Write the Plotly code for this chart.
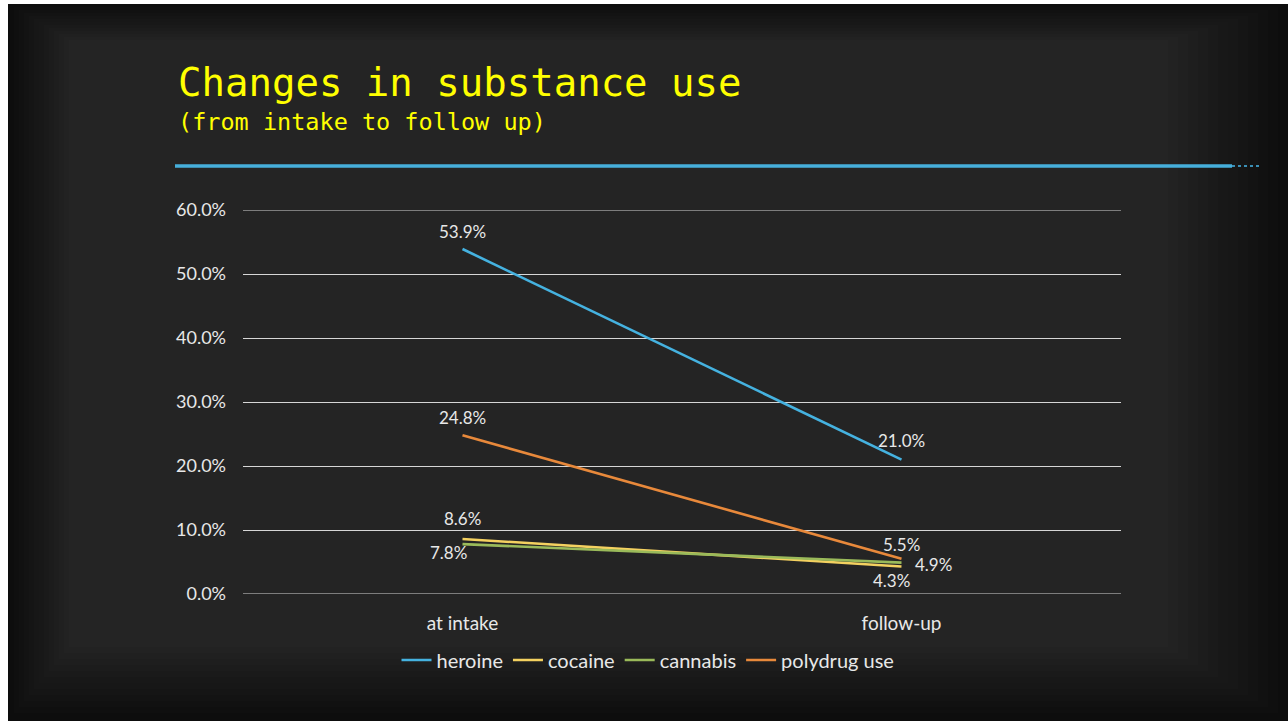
import plotly.graph_objects as go

# --- data -------------------------------------------------------------
stages = ["at intake", "follow-up"]
heroine = [53.9, 21.0]
cocaine = [8.6, 4.3]
cannabis = [7.8, 4.9]
polydrug = [24.8, 5.5]
y_ticks = [0, 10, 20, 30, 40, 50, 60]
y_tick_labels = ["0.0%", "10.0%", "20.0%", "30.0%", "40.0%", "50.0%", "60.0%"]

W, H = 1288, 721
L, R, T, B = 243, 1121, 210, 594  # plot area in pixels


def px(x):
    return (x - L) / (R - L)


def py(y):
    return (B - y) / (B - T)


# name, values, colour, label offsets (xshift, yshift) per point
series = [
    ("heroine", heroine, "#45b2e0", [(0, 18), (0, 19)]),
    ("cocaine", cocaine, "#f4d160", [(0, 20), (-10, -14)]),
    ("cannabis", cannabis, "#9aba5a", [(-14, -8), (32, -2)]),
    ("polydrug use", polydrug, "#e8893b", [(0, 18), (0, 14)]),
]

LABEL_FONT = dict(family="Lato", size=17, color="#e8e8e8")
GRID = "#d6d6d6"

fig = go.Figure()
annotations = []
for name, vals, color, offs in series:
    fig.add_trace(go.Scatter(
        x=stages, y=vals, name=name, mode="lines",
        line=dict(color=color, width=2.6),
    ))
    for stage, v, (dx, dy) in zip(stages, vals, offs):
        annotations.append(dict(
            x=stage, y=v, xref="x", yref="y", text=f"{v:.1f}%",
            showarrow=False, xanchor="center", yanchor="middle",
            xshift=dx, yshift=dy, font=LABEL_FONT))

shapes = []
# chalkboard backdrop, darker towards the edges
shapes.append(dict(type="rect", xref="paper", yref="paper", layer="below",
                   x0=px(8), x1=px(W), y0=py(4), y1=py(H),
                   fillcolor="#0d0d0d", line=dict(width=0)))
steps = 12
for i in range(steps):
    g = int(round(0x0d + (0x24 - 0x0d) * (i + 1) / steps))
    shapes.append(dict(type="rect", xref="paper", yref="paper", layer="below",
                       x0=px(14 + 5 * i), x1=px(W - 10 - 10 * i),
                       y0=py(7 + 3 * i), y1=py(H - 8 - 6 * i),
                       fillcolor=f"rgb({g},{g},{g})", line=dict(width=0)))
# chalk underline below the title
shapes.append(dict(type="line", xref="paper", yref="paper",
                   x0=px(175), x1=px(1232), y0=py(166), y1=py(166),
                   line=dict(color="#46afdb", width=3.5)))
shapes.append(dict(type="line", xref="paper", yref="paper",
                   x0=px(1232), x1=px(1262), y0=py(166), y1=py(166),
                   line=dict(color="#3a8fb5", width=2, dash="dot")))
# grid lines on the axis edges (0% and 60%)
for v in (y_ticks[0], y_ticks[-1]):
    shapes.append(dict(type="line", xref="paper", yref="y", x0=0, x1=1,
                       y0=v, y1=v, layer="below", line=dict(color=GRID, width=1)))

annotations += [
    dict(text="Changes in substance use", xref="paper", yref="paper",
         x=px(176), y=py(82), xanchor="left", yanchor="middle", showarrow=False,
         font=dict(family="DejaVu Sans Mono", size=39, color="#ffff00")),
    dict(text="(from intake to follow up)", xref="paper", yref="paper",
         x=px(176), y=py(122), xanchor="left", yanchor="middle", showarrow=False,
         font=dict(family="DejaVu Sans Mono", size=23.5, color="#ffff00")),
]

fig.update_layout(
    width=W, height=H,
    margin=dict(l=L, r=W - R, t=T, b=H - B, pad=0),
    paper_bgcolor="#ffffff",
    plot_bgcolor="rgba(0,0,0,0)",
    shapes=shapes,
    annotations=annotations,
    showlegend=True,
    legend=dict(orientation="h", x=px(648), y=py(660), xanchor="center",
                yanchor="middle", bgcolor="rgba(0,0,0,0)",
                font=dict(family="Lato", size=20, color="#e8e8e8"),
                itemwidth=30, tracegroupgap=0),
    xaxis=dict(range=[-0.5, 1.5], showgrid=False, zeroline=False, showline=False,
               tickfont=dict(family="Lato", size=19, color="#e8e8e8"),
               ticks="", ticklabelstandoff=16),
    yaxis=dict(range=[0, 60], tickvals=y_ticks, ticktext=y_tick_labels,
               showgrid=True, gridcolor=GRID, gridwidth=1, zeroline=False,
               showline=False, ticks="", ticklabelstandoff=16,
               tickfont=dict(family="Lato", size=18, color="#e8e8e8")),
)

fig.write_html("out.html")
